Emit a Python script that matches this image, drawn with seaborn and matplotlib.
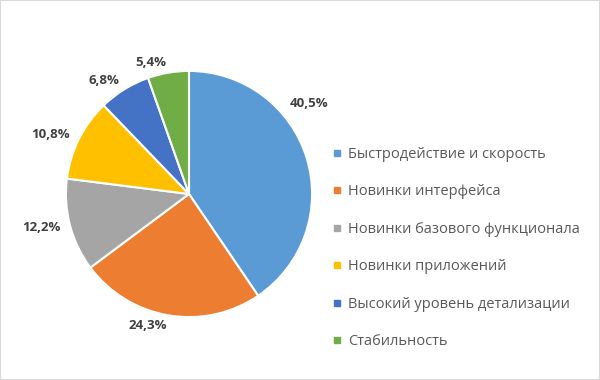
import numpy as np
import matplotlib
matplotlib.use('Agg')
import matplotlib.pyplot as plt
from matplotlib.lines import Line2D
from matplotlib.patches import Rectangle
import seaborn as sns

categories = ['Быстродействие и скорость', 'Новинки интерфейса', 'Новинки базового функционала',
              'Новинки приложений', 'Высокий уровень детализации', 'Стабильность']
shares = [40.5, 24.3, 12.2, 10.8, 6.8, 5.4]
pct_labels = ['40,5%', '24,3%', '12,2%', '10,8%', '6,8%', '5,4%']
colors = ['#5B9BD5', '#ED7D31', '#A5A5A5', '#FFC000', '#4472C4', '#70AD47']

sns.set_theme(style='white')
plt.rcParams['font.family'] = ['Open Sans', 'DejaVu Sans']

fig = plt.figure(figsize=(6, 3.8), dpi=100)
# pie centred at about (189, 194) px, radius ~123 px
ax = fig.add_axes([29 / 600, 26 / 380, 320 / 600, 320 / 380])
palette = sns.color_palette(colors)
wedges, texts = ax.pie(shares, labels=pct_labels, colors=palette, startangle=90, counterclock=False,
                       labeldistance=1.08, wedgeprops=dict(edgecolor='white', linewidth=1.5),
                       textprops=dict(fontsize=9.5, fontweight='bold', color='#404040'))
ax.set_xlim(-1.3, 1.3)
ax.set_ylim(-1.3, 1.3)
ax.set_aspect('equal')
ax.axis('off')

# Excel nudges the big label up so it does not run into the legend
ang = np.deg2rad(37)
texts[0].set_position((1.22 * np.cos(ang), 1.22 * np.sin(ang)))
texts[0].set_ha('center')

handles = [Line2D([], [], marker='s', linestyle='', markersize=5, markerfacecolor=c, markeredgecolor=c)
           for c in colors]
leg = fig.legend(handles, categories, loc='upper left', bbox_to_anchor=(331 / 600, 1 - 147 / 380),
                 frameon=False, fontsize=10.5, handlelength=0.8, handletextpad=0.4, labelspacing=1.54,
                 borderaxespad=0, borderpad=0)
for t in leg.get_texts():
    t.set_color('#595959')

fig.patches.append(Rectangle((0, 0), 1, 1, transform=fig.transFigure, fill=False,
                             edgecolor='#D9D9D9', linewidth=1.5))

fig.savefig('out.png', dpi=100)
